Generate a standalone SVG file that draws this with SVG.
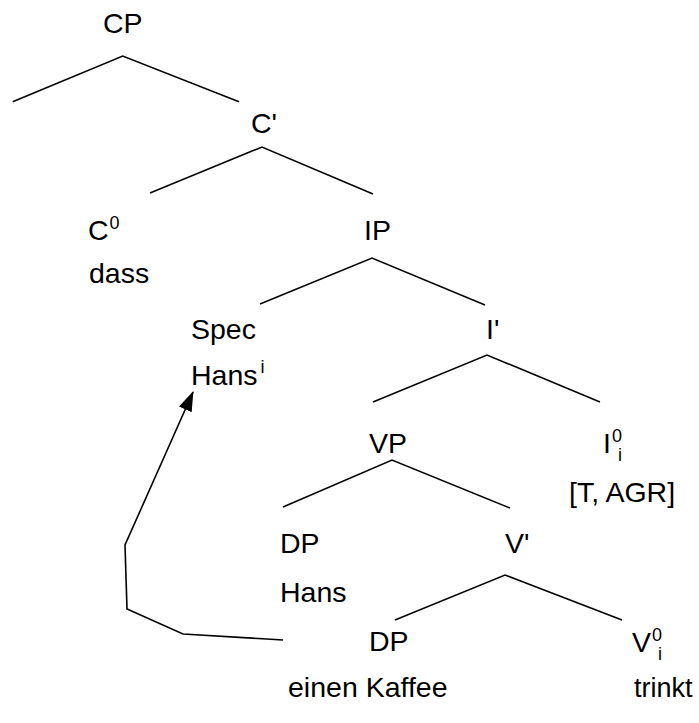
<svg xmlns="http://www.w3.org/2000/svg" width="699" height="723" viewBox="0 0 699 723">
<style>
text{font-family:"Liberation Sans",Arial,sans-serif;font-size:28.5px;fill:#000}
.s{font-size:18px}
.t{font-size:27px}
line,polyline{stroke:#000;stroke-width:1.6;fill:none}
</style>
<defs>
<marker id="ah" markerWidth="20" markerHeight="14" refX="19" refY="7" orient="auto" markerUnits="userSpaceOnUse" viewBox="0 0 20 14">
<path d="M0,0 L20,7 L0,14 Z" fill="#000"/>
</marker>
</defs>
<rect width="699" height="723" fill="#fff"/>
<g id="connectors">
<polyline points="12.7,101.7 122.7,56 239,101.7"/>
<polyline points="150,193 262,147 373,194"/>
<polyline points="260,304 372,258 485,305"/>
<polyline points="373,402 487,355 600,402"/>
<polyline points="283,507 392,460 510,508"/>
<polyline points="395,620 505,575 622,620"/>
<polyline points="283,640 183,634 127,609 125,545 193,392" marker-end="url(#ah)"/>
</g>
<g id="CP"><text x="103" y="33">CP</text></g>
<g id="Cbar"><text x="251" y="133">C'</text></g>
<g id="C0"><text x="88" y="240">C<tspan class="s" dx="1" dy="-11">0</tspan></text></g>
<g id="IP"><text x="364" y="240">IP</text></g>
<g id="dass"><text x="89" y="283">dass</text></g>
<g id="Spec"><text x="191" y="339">Spec</text></g>
<g id="Ibar"><text x="486" y="339">I'</text></g>
<g id="Hans1"><text x="191" y="385">Hans<tspan class="s" dx="3" dy="-12">i</tspan></text></g>
<g id="VP"><text x="369" y="453">VP</text></g>
<g id="I0"><text x="603" y="453">I<tspan class="s" dx="1" dy="-11">0</tspan><tspan class="s" dx="-4" dy="19">i</tspan></text></g>
<g id="TAGR"><text x="569" y="502">[T, AGR]</text></g>
<g id="DP1"><text x="280" y="553">DP</text></g>
<g id="Vbar"><text x="505" y="553">V'</text></g>
<g id="Hans2"><text x="280" y="602">Hans</text></g>
<g id="DP2"><text x="369" y="651">DP</text></g>
<g id="V0"><text x="632" y="652">V<tspan class="s" dx="1" dy="-11">0</tspan><tspan class="s" dx="-4" dy="19">i</tspan></text></g>
<g id="einen"><text x="288" y="697">einen Kaffee</text></g>
<g id="trinkt"><text class="t" x="634" y="697">trinkt</text></g>
</svg>
